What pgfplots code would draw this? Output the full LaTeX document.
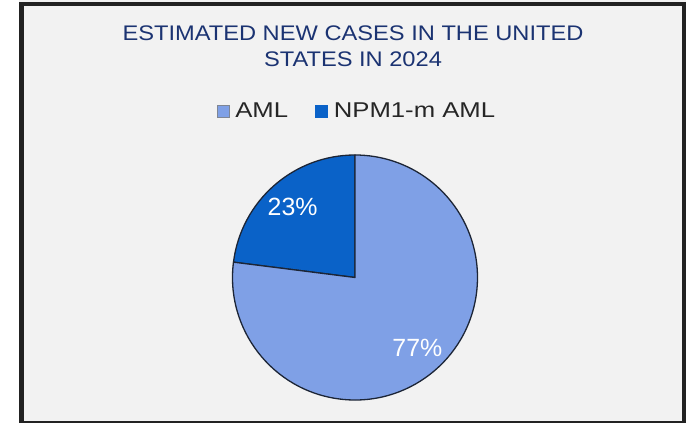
\documentclass[border=0pt]{standalone}
\usepackage{pgfplots}
\pgfplotsset{compat=1.18}
\usepackage{pgfplotstable}
\usepackage{fontspec}
\setmainfont{Liberation Sans}
\newfontfamily\titlefont[FakeStretch=1.12]{Liberation Sans}
\newfontfamily\legfont[FakeStretch=1.2]{Liberation Sans}
\definecolor{amlc}{HTML}{7FA0E6}
\definecolor{npmc}{HTML}{0A62C8}
\definecolor{titlec}{HTML}{1B3372}
\definecolor{edgec}{HTML}{1C2536}
\definecolor{bgc}{HTML}{F2F2F2}
\definecolor{framec}{HTML}{222222}
\definecolor{legtext}{HTML}{262626}

\pgfplotstableread{
label value
AML 77
NPM1 23
}\piedata

\begin{document}
\begin{tikzpicture}
\pgfplotstablegetelem{0}{value}\of\piedata \let\vaml\pgfplotsretval
\pgfplotstablegetelem{1}{value}\of\piedata \let\vnpm\pgfplotsretval
\pgfmathsetmacro\total{\vaml+\vnpm}
\pgfmathsetmacro\aA{90}
\pgfmathsetmacro\aB{90+360*\vnpm/\total}
\pgfmathsetmacro\aC{450}
\pgfmathsetmacro\mA{(\aA+\aB)/2}
\pgfmathsetmacro\mB{(\aB+\aC)/2}
\def\R{122.5bp}

\fill[bgc] (19bp,0bp) rectangle (686bp,423bp);
\draw[framec, line width=4.5bp] (21.5bp,0bp) rectangle (684bp,419bp);

\node[titlec, font=\titlefont\fontsize{21.2}{26}\selectfont, anchor=base] at (353bp,382bp) {ESTIMATED NEW CASES IN THE UNITED};
\node[titlec, font=\titlefont\fontsize{21.2}{26}\selectfont, anchor=base] at (353bp,356bp) {STATES IN 2024};

\begin{axis}[
  at={(355bp,145.5bp)}, anchor=center,
  width=245bp, height=245bp, scale only axis,
  hide axis, clip=false,
  xmin=-1, xmax=1, ymin=-1, ymax=1,
  legend columns=2,
  legend style={at={(0.508,1.18)}, anchor=center, draw=none, fill=none,
    font=\legfont\fontsize{21.5}{25}\selectfont, text=legtext,
    nodes={inner sep=2bp},
    /tikz/every even column/.append style={column sep=25bp}},
  legend image code/.code={\draw[#1] (0bp,-6bp) rectangle (12bp,6bp); \path (16bp,0bp);},
]
\addlegendimage{fill=amlc, draw=gray!80!amlc, line width=0.6bp}
\addlegendentry{AML}
\addlegendimage{fill=npmc, draw=npmc, line width=0.6bp}
\addlegendentry{NPM1-m AML}

\filldraw[fill=npmc, draw=edgec, line width=1.3bp, line join=round]
  (axis cs:0,0) -- ++(\aA:\R) arc[start angle=\aA, end angle=\aB, radius=\R] -- cycle;
\filldraw[fill=amlc, draw=edgec, line width=1.3bp, line join=round]
  (axis cs:0,0) -- ++(\aB:\R) arc[start angle=\aB, end angle=\aC, radius=\R] -- cycle;

\node[white, font=\fontsize{25}{30}\selectfont] at (axis cs:{0.77*cos(\mA)},{0.77*sin(\mA)}) {\vnpm\%};
\node[white, font=\fontsize{25}{30}\selectfont] at (axis cs:{0.77*cos(\mB)},{0.77*sin(\mB)}) {\vaml\%};
\end{axis}

\pgfresetboundingbox
\path[use as bounding box] (0bp,0bp) rectangle (688bp,423bp);
\end{tikzpicture}
\end{document}
